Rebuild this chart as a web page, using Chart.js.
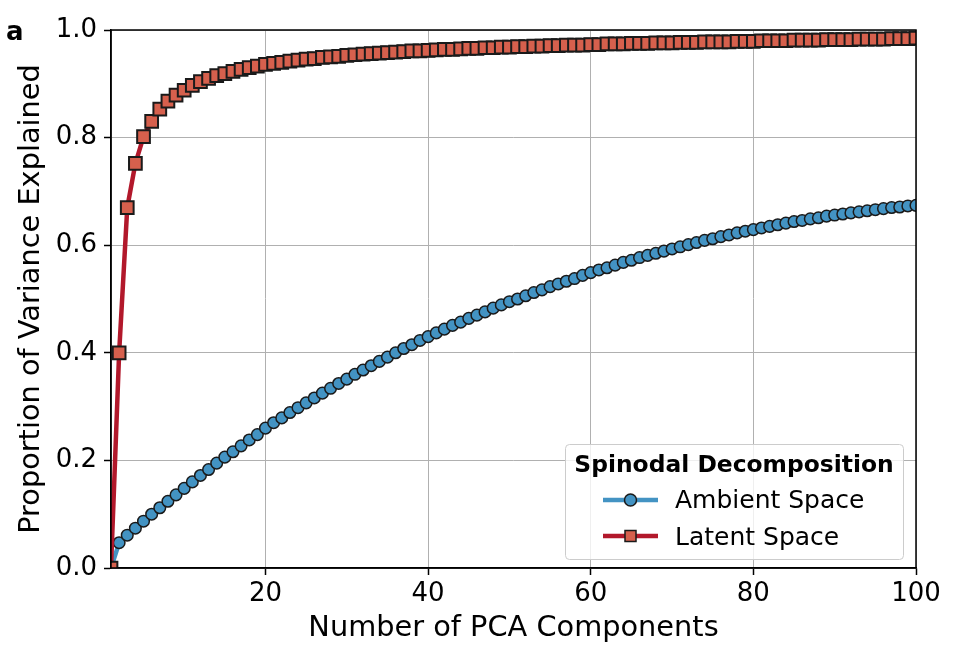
<!DOCTYPE html>
<html><head><meta charset="utf-8">
<script src="https://cdn.jsdelivr.net/npm/chart.js@4.4.0/dist/chart.umd.min.js"></script>
<style>html,body{margin:0;padding:0;background:#fff;}#wrap{width:960px;height:660px;position:relative;}</style>
</head><body><div id="wrap"><canvas id="c" width="960" height="660"></canvas></div>
<script>
const components = [1,2,3,4,5,6,7,8,9,10,11,12,13,14,15,16,17,18,19,20,21,22,23,24,25,26,27,28,29,30,31,32,33,34,35,36,37,38,39,40,41,42,43,44,45,46,47,48,49,50,51,52,53,54,55,56,57,58,59,60,61,62,63,64,65,66,67,68,69,70,71,72,73,74,75,76,77,78,79,80,81,82,83,84,85,86,87,88,89,90,91,92,93,94,95,96,97,98,99,100];
const ambientSpace = [0.000,0.047,0.061,0.074,0.087,0.100,0.112,0.124,0.136,0.148,
 0.160,0.172,0.183,0.195,0.206,0.216,0.227,0.238,0.248,0.260,
 0.270,0.279,0.289,0.298,0.307,0.316,0.325,0.334,0.343,0.351,
 0.360,0.368,0.376,0.384,0.392,0.400,0.408,0.415,0.423,0.430,
 0.437,0.444,0.451,0.457,0.464,0.470,0.476,0.483,0.489,0.495,
 0.500,0.506,0.512,0.517,0.523,0.528,0.533,0.538,0.544,0.549,
 0.554,0.558,0.563,0.568,0.572,0.577,0.581,0.585,0.589,0.593,
 0.597,0.601,0.605,0.609,0.612,0.616,0.619,0.623,0.626,0.629,
 0.632,0.635,0.638,0.641,0.644,0.646,0.649,0.651,0.654,0.656,
 0.658,0.660,0.662,0.664,0.666,0.668,0.670,0.671,0.673,0.674];
const latentSpace = [0.000,0.400,0.670,0.752,0.802,0.830,0.853,0.868,0.879,0.888,
 0.897,0.904,0.910,0.915,0.919,0.923,0.927,0.930,0.933,0.936,
 0.938,0.940,0.942,0.944,0.946,0.947,0.949,0.950,0.951,0.953,
 0.954,0.955,0.956,0.957,0.958,0.959,0.960,0.961,0.961,0.962,
 0.963,0.964,0.964,0.965,0.966,0.966,0.967,0.967,0.968,0.968,
 0.969,0.969,0.970,0.970,0.971,0.971,0.972,0.972,0.972,0.973,
 0.973,0.974,0.974,0.974,0.975,0.975,0.975,0.976,0.976,0.976,
 0.977,0.977,0.977,0.978,0.978,0.978,0.978,0.979,0.979,0.979,
 0.980,0.980,0.980,0.980,0.981,0.981,0.981,0.981,0.982,0.982,
 0.982,0.982,0.983,0.983,0.983,0.983,0.984,0.984,0.984,0.985];
const xTicks = [20,40,60,80,100];
const yTicks = [0,0.2,0.4,0.6,0.8,1.0];
const seriesNames = ['Ambient Space','Latent Space'];
const legendTitle = 'Spinodal Decomposition';
const xLabel = 'Number of PCA Components';
const yLabel = 'Proportion of Variance Explained';
const panelLabel = 'a';

const FONT = "'DejaVu Sans', 'Liberation Sans', sans-serif";
const BLUE = '#4393c3', RED = '#b2182b', RED_FILL = '#d6604d', EDGE = '#1a1a1a';

const decorPlugin = {
  id: 'decor',
  afterDraw(chart) {
    const ctx = chart.ctx, a = chart.chartArea;
    ctx.save();
    // frame
    ctx.strokeStyle = '#000'; ctx.lineWidth = 1.5;
    ctx.strokeRect(a.left, a.top, a.right - a.left, a.bottom - a.top);
    // axis titles
    ctx.fillStyle = '#000';
    ctx.font = '28.8px ' + FONT;
    ctx.textAlign = 'center'; ctx.textBaseline = 'alphabetic';
    ctx.fillText(xLabel, (a.left + a.right) / 2, 635.5);
    ctx.save();
    ctx.translate(39, (a.top + a.bottom) / 2);
    ctx.rotate(-Math.PI / 2);
    ctx.fillText(yLabel, 0, 0);
    ctx.restore();
    // panel label
    ctx.font = 'bold 26px ' + FONT;
    ctx.textAlign = 'left';
    ctx.fillText(panelLabel, 6, 40);
    // legend
    const lx = 565.5, ly = 444.5, lw = 338, lh = 115;
    ctx.beginPath();
    ctx.roundRect(lx, ly, lw, lh, 4);
    ctx.fillStyle = 'rgba(255,255,255,0.8)';
    ctx.fill();
    ctx.strokeStyle = '#cccccc'; ctx.lineWidth = 1;
    ctx.stroke();
    ctx.fillStyle = '#000';
    ctx.font = 'bold 23.4px ' + FONT;
    ctx.textAlign = 'center';
    ctx.fillText(legendTitle, lx + lw / 2 - 0.5, 472);
    // ambient entry
    ctx.lineCap = 'butt';
    ctx.strokeStyle = BLUE; ctx.lineWidth = 4.5;
    ctx.beginPath(); ctx.moveTo(603, 500); ctx.lineTo(658, 500); ctx.stroke();
    ctx.beginPath(); ctx.arc(630.5, 500, 6, 0, Math.PI * 2);
    ctx.fillStyle = BLUE; ctx.fill();
    ctx.strokeStyle = EDGE; ctx.lineWidth = 1.5; ctx.stroke();
    // latent entry
    ctx.strokeStyle = RED; ctx.lineWidth = 4.5;
    ctx.beginPath(); ctx.moveTo(603, 536); ctx.lineTo(658, 536); ctx.stroke();
    ctx.fillStyle = RED_FILL;
    ctx.fillRect(625, 530.5, 11, 11);
    ctx.strokeStyle = EDGE; ctx.lineWidth = 1.5;
    ctx.strokeRect(625, 530.5, 11, 11);
    ctx.fillStyle = '#000';
    ctx.font = '25px ' + FONT;
    ctx.textAlign = 'left';
    ctx.fillText(seriesNames[0], 675, 507.5);
    ctx.fillText(seriesNames[1], 675, 545);
    ctx.restore();
  }
};

const scaleCommon = {
  grid: { color: '#b0b0b0', lineWidth: 1, tickColor: '#000', tickLength: 7, drawTicks: true, tickWidth: 1.5 },
  border: { display: true, color: '#000', width: 1.5 },
};

new Chart(document.getElementById('c'), {
  type: 'line',
  data: {
    datasets: [
      {
        label: seriesNames[1],
        data: components.map((x, i) => ({ x: x, y: latentSpace[i] })),
        borderColor: RED, borderWidth: 4.5,
        pointStyle: 'rect', pointRadius: 9, pointBackgroundColor: RED_FILL,
        pointBorderColor: EDGE, pointBorderWidth: 2,
        order: 0, clip: 0, tension: 0
      },
      {
        label: seriesNames[0],
        data: components.map((x, i) => ({ x: x, y: ambientSpace[i] })),
        borderColor: BLUE, borderWidth: 4.5,
        pointStyle: 'circle', pointRadius: 5.8, pointBackgroundColor: BLUE,
        pointBorderColor: EDGE, pointBorderWidth: 1.5,
        order: 1, clip: 0, tension: 0
      }
    ]
  },
  options: {
    responsive: false, animation: false, devicePixelRatio: 1,
    events: [],
    layout: { padding: { left: 0, right: 44, top: 30, bottom: 0 } },
    plugins: { legend: { display: false }, tooltip: { enabled: false } },
    scales: {
      x: Object.assign({}, scaleCommon, {
        type: 'linear', min: 1, max: 100,
        afterBuildTicks: s => { s.ticks = xTicks.map(v => ({ value: v })); },
        afterFit: s => { s.height = 92; },
        ticks: { font: { family: FONT, size: 26 }, color: '#000', padding: 4, maxRotation: 0, autoSkip: false, callback: v => String(v) }
      }),
      y: Object.assign({}, scaleCommon, {
        type: 'linear', min: 0, max: 1,
        afterBuildTicks: s => { s.ticks = yTicks.map(v => ({ value: v })); },
        afterFit: s => { s.width = 111; },
        ticks: { font: { family: FONT, size: 26 }, color: '#000', padding: 7, autoSkip: false, callback: v => Number(v).toFixed(1) }
      })
    }
  },
  plugins: [decorPlugin]
});
</script>
</body></html>
